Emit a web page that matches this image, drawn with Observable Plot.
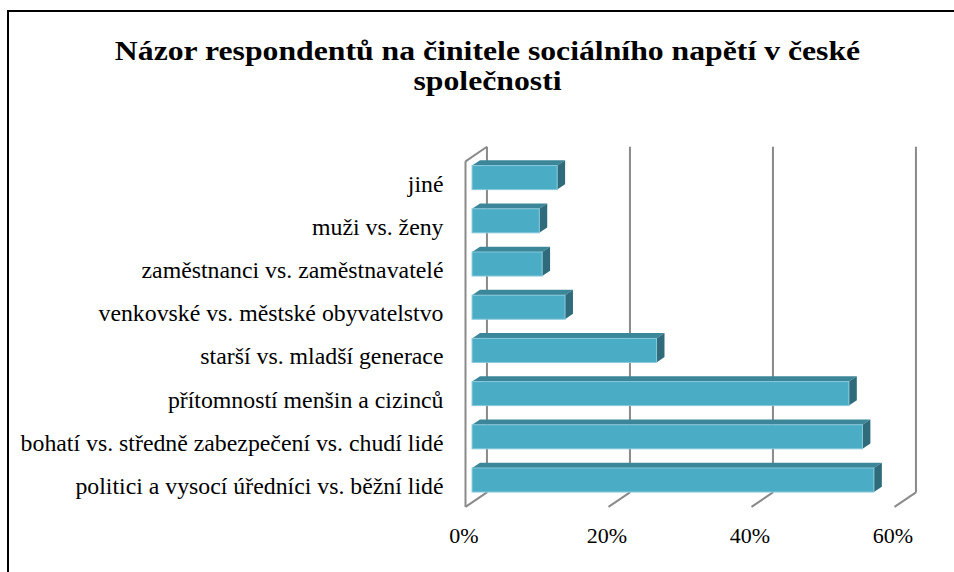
<!DOCTYPE html>
<html><head><meta charset="utf-8">
<script src="https://cdn.jsdelivr.net/npm/d3@7"></script>
<script src="https://cdn.jsdelivr.net/npm/@observablehq/plot@0.6"></script>
<style>
body{margin:0;background:#fff;}
#wrap{position:relative;width:954px;height:572px;overflow:hidden;background:#fff;}
#border{position:absolute;left:7px;top:10px;width:980px;height:620px;border-left:2px solid #000;border-top:2px solid #000;}
#chart{position:absolute;left:0;top:0;}
#chart svg, #chart svg text{font-family:"Liberation Serif", "Times New Roman", serif !important;}
</style></head><body>
<div id="wrap"><div id="border"></div><div id="chart"></div></div>
<script>
// categories listed bottom to top
const categories = [
  "politici a vysocí úředníci vs. běžní lidé",
  "bohatí vs. středně zabezpečení vs. chudí lidé",
  "přítomností menšin a cizinců",
  "starší vs. mladší generace",
  "venkovské vs. městské obyvatelstvo",
  "zaměstnanci vs. zaměstnavatelé",
  "muži vs. ženy",
  "jiné"
];
const values = [56.2, 54.6, 52.7, 25.8, 13.0, 9.8, 9.4, 11.9];
const tickValues = [0, 20, 40, 60];
const tickLabels = ["0%", "20%", "40%", "60%"];
const titleLines = ["Názor respondentů na činitele sociálního napětí v české", "společnosti"];

// 3D depth in data units
const DX = 3.0, DY = 0.336;
const d1 = 0.33, d2 = 0.70, h = 0.278;
const floorY = -0.5, topY = 7.5;
const serif = "Liberation Serif";

const rows = categories.map((c, i) => ({c, i, v: values[i]}));
const topPts = rows.flatMap(d => [d1, d2].map(k => ({c: d.c, y: d.i + h + k * DY, x1: k * DX, x2: d.v + k * DX})));
const sidePts = rows.flatMap(d => [d1, d2].map(k => ({c: d.c, x: d.v + k * DX, y1: d.i - h + k * DY, y2: d.i + h + k * DY})));

const grid = "#8a8a8a";
const chart = Plot.plot({
  width: 954, height: 572, margin: 0,
  x: {domain: [0, 60], range: [465, 894], axis: null},
  y: {domain: [0, 7], range: [484.8, 182.4], axis: null},
  style: {fontFamily: serif, background: "transparent", color: "#000"},
  marks: [
    // back wall vertical gridlines
    Plot.link(tickValues, {x1: d => d + DX, x2: d => d + DX, y1: () => floorY + DY, y2: () => topY + DY, stroke: grid, strokeWidth: 2}),
    // floor slants
    Plot.link(tickValues, {x1: d => d, x2: d => d + DX, y1: () => floorY, y2: () => floorY + DY, stroke: grid, strokeWidth: 2}),
    // left wall front edge and top slant
    Plot.link([0], {x1: () => 0, x2: () => 0, y1: () => floorY, y2: () => topY, stroke: grid, strokeWidth: 2}),
    Plot.link([0], {x1: () => 0, x2: () => DX, y1: () => topY, y2: () => topY + DY, stroke: grid, strokeWidth: 2}),
    // bars
    Plot.areaX(topPts, {y: "y", x1: "x1", x2: "x2", z: "c", fill: "#3c8699"}),
    Plot.areaY(sidePts, {x: "x", y1: "y1", y2: "y2", z: "c", fill: "#2f6b7b"}),
    Plot.rect(rows, {x1: () => d1 * DX, x2: d => d.v + d1 * DX, y1: d => d.i - h + d1 * DY, y2: d => d.i + h + d1 * DY, fill: "#4bacc6", stroke: "#86c8da", strokeWidth: 1}),
    // category labels
    Plot.text(rows, {x: () => 0, y: "i", text: "c", textAnchor: "end", dx: -22, dy: 1, fontSize: 23.8, fontFamily: serif, fill: "#000"}),
    // tick labels
    Plot.text(tickValues, {x: d => d, y: () => floorY, text: (d, i) => tickLabels[i], dx: -1.5, dy: 29, fontSize: 22, fontFamily: serif, fill: "#000"}),
    // title
    Plot.text([titleLines[0]], {frameAnchor: "top", text: d => d, dx: 10, dy: 40.5, lineAnchor: "top", fontSize: 27, fontWeight: "bold", fontFamily: serif, fill: "#000", className: "ttl"}),
    Plot.text([titleLines[1]], {frameAnchor: "top", text: d => d, dx: 10, dy: 70.5, lineAnchor: "top", fontSize: 27, fontWeight: "bold", fontFamily: serif, fill: "#000", className: "ttl"})
  ]
});
document.getElementById("chart").appendChild(chart);
// the reference title is drawn slightly stretched horizontally
d3.select(chart).selectAll(".ttl text").each(function () {
  const L = this.getComputedTextLength();
  this.setAttribute("textLength", (L * 1.175).toFixed(1));
  this.setAttribute("lengthAdjust", "spacingAndGlyphs");
});
</script>
</body></html>
